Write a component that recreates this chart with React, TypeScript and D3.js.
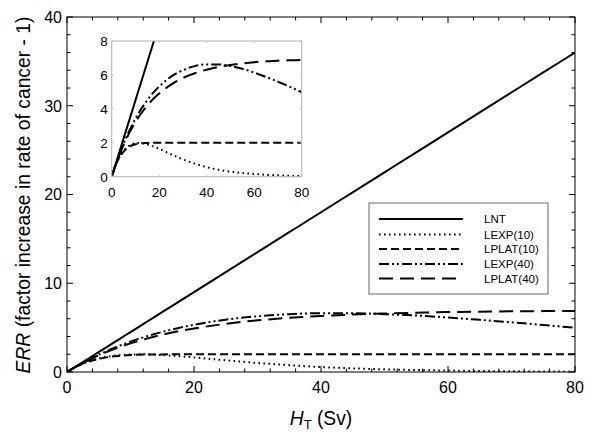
import React from "react";
import * as d3 from "d3";

const doses = [0, 2, 4, 6, 8, 10, 12, 14, 16, 18, 20, 25, 30, 35, 40, 45, 50, 55, 60, 65, 70, 75, 80];
const lnt = [0, 0.9, 1.8, 2.7, 3.6, 4.5, 5.4, 6.3, 7.2, 8.1, 9, 11.25, 13.5, 15.75, 18, 20.25, 22.5, 24.75, 27, 29.25, 31.5, 33.75, 36];
const lexp10 = [0, 0.8, 1.33, 1.68, 1.88, 1.97, 1.99, 1.95, 1.87, 1.76, 1.64, 1.32, 1.02, 0.77, 0.56, 0.41, 0.3, 0.22, 0.16, 0.11, 0.08, 0.05, 0.04];
const lplat10 = [0, 0.78, 1.3, 1.62, 1.81, 1.91, 1.96, 1.98, 1.99, 2.0, 2.0, 2.0, 2.0, 2.0, 2.0, 2.0, 2.0, 2.0, 2.0, 2.0, 2.0, 2.0, 2.0];
const lexp40 = [0, 0.85, 1.6, 2.28, 2.88, 3.42, 3.9, 4.32, 4.7, 5.03, 5.32, 5.9, 6.28, 6.52, 6.62, 6.62, 6.52, 6.36, 6.14, 5.88, 5.6, 5.3, 4.98];
const lplat40 = [0, 0.83, 1.55, 2.18, 2.74, 3.22, 3.65, 4.03, 4.36, 4.65, 4.9, 5.43, 5.82, 6.1, 6.31, 6.47, 6.59, 6.68, 6.75, 6.8, 6.84, 6.86, 6.88];

const seriesNames = ["LNT", "LEXP(10)", "LPLAT(10)", "LEXP(40)", "LPLAT(40)"];
const seriesValues = [lnt, lexp10, lplat10, lexp40, lplat40];
const dashes = ["none", "1.6,3.4", "8,4", "10,3,2,3,2,3", "14,7"];

const mainXTicks = [0, 20, 40, 60, 80];
const mainYTicks = [0, 10, 20, 30, 40];
const insetXTicks = [0, 20, 40, 60, 80];
const insetYTicks = [0, 2, 4, 6, 8];

const FONT = "'Liberation Sans', Arial, sans-serif";

export default function App() {
  const W = 601, H = 437;
  const x = d3.scaleLinear().domain([0, 80]).range([67, 575]);
  const y = d3.scaleLinear().domain([0, 40]).range([372, 17]);
  const ix = d3.scaleLinear().domain([0, 80]).range([111.7, 301.7]);
  const iy = d3.scaleLinear().domain([0, 8]).range([176.7, 41]);

  const mk = (sx: any, sy: any) =>
    d3.line<[number, number]>().x(d => sx(d[0])).y(d => sy(d[1])).curve(d3.curveMonotoneX);

  const mainLine = mk(x, y);
  const insetLine = mk(ix, iy);
  const pts = (vals: number[]) => doses.map((d, i) => [d, vals[i]] as [number, number]);

  const xMinor = d3.range(0, 81, 4);
  const yMinor = d3.range(0, 41, 2);
  const [x0, x1] = x.range();
  const [y0, y1] = y.range();

  const legendRows = [219, 234.5, 249, 264, 278.5];

  return (
    <svg width={W} height={H} style={{ position: "absolute", left: 0, top: 0, background: "#fff" }} fontFamily={FONT}>
      <defs>
        <clipPath id="insetClip">
          <rect x={ix(0)} y={iy(8)} width={ix(80) - ix(0)} height={iy(0) - iy(8)} />
        </clipPath>
        <clipPath id="mainClip">
          <rect x={x0} y={y1} width={x1 - x0} height={y0 - y1} />
        </clipPath>
      </defs>
      <rect x={0} y={0} width={W} height={H} fill="#fff" />

      {/* main curves */}
      <g clipPath="url(#mainClip)">
        {seriesValues.map((v, i) => (
          <path key={i} d={mainLine(pts(v)) || ""} fill="none" stroke="#000" strokeWidth={2}
            strokeDasharray={dashes[i]} />
        ))}
      </g>

      {/* main frame */}
      <rect x={x0} y={y1} width={x1 - x0} height={y0 - y1} fill="none" stroke="#000" strokeWidth={1} />
      {xMinor.map(t => {
        const major = t % 20 === 0;
        const L = major ? 6 : 3.5;
        return (
          <g key={"xt" + t} stroke="#000" strokeWidth={1}>
            <line x1={x(t)} x2={x(t)} y1={y0} y2={y0 - L} />
            <line x1={x(t)} x2={x(t)} y1={y1} y2={y1 + L} />
          </g>
        );
      })}
      {yMinor.map(t => {
        const major = t % 10 === 0;
        const L = major ? 6 : 3.5;
        return (
          <g key={"yt" + t} stroke="#000" strokeWidth={1}>
            <line x1={x0} x2={x0 + L} y1={y(t)} y2={y(t)} />
            <line x1={x1} x2={x1 - L} y1={y(t)} y2={y(t)} />
          </g>
        );
      })}
      {mainXTicks.map(t => (
        <text key={"xl" + t} x={x(t)} y={393} textAnchor="middle" fontSize={16}>{t}</text>
      ))}
      {mainYTicks.map(t => (
        <text key={"yl" + t} x={x0 - 5} y={y(t)} dy="0.36em" textAnchor="end" fontSize={16}>{t}</text>
      ))}

      {/* axis titles */}
      <text x={0} y={0} transform={`translate(29.5,${(y0 + y1) / 2 + 0.5}) rotate(-90)`} textAnchor="middle" fontSize={19.3}>
        <tspan fontStyle="italic">ERR</tspan>
        <tspan> (factor increase in rate of cancer - 1)</tspan>
      </text>
      <text x={(x0 + x1) / 2} y={424.5} textAnchor="middle" fontSize={19.3}>
        <tspan fontStyle="italic">H</tspan>
        <tspan fontSize={13} dy={4}>T</tspan>
        <tspan dy={-4}> (Sv)</tspan>
      </text>

      {/* inset */}
      <rect x={ix(0)} y={iy(8)} width={ix(80) - ix(0)} height={iy(0) - iy(8)} fill="#fff" />
      <g clipPath="url(#insetClip)">
        {seriesValues.map((v, i) => (
          <path key={i} d={insetLine(pts(v)) || ""} fill="none" stroke="#000" strokeWidth={2}
            strokeDasharray={dashes[i]} />
        ))}
      </g>
      <rect x={ix(0)} y={iy(8)} width={ix(80) - ix(0)} height={iy(0) - iy(8)} fill="none" stroke="#b0b0b0" strokeWidth={1} />
      {insetXTicks.map(t => (
        <g key={"ixt" + t}>
          <line x1={ix(t)} x2={ix(t)} y1={iy(0)} y2={iy(0) - 2} stroke="#c0c0c0" />
          <line x1={ix(t)} x2={ix(t)} y1={iy(8)} y2={iy(8) + 2} stroke="#c0c0c0" />
          <text x={ix(t)} y={197} textAnchor="middle" fontSize={13.5}>{t}</text>
        </g>
      ))}
      {insetYTicks.map(t => (
        <g key={"iyt" + t}>
          <line x1={ix(0)} x2={ix(0) + 2} y1={iy(t)} y2={iy(t)} stroke="#c0c0c0" />
          <line x1={ix(80)} x2={ix(80) - 2} y1={iy(t)} y2={iy(t)} stroke="#c0c0c0" />
          <text x={ix(0) - 4} y={iy(t)} dy="0.36em" textAnchor="end" fontSize={13.5}>{t}</text>
        </g>
      ))}

      {/* legend */}
      <rect x={369} y={203} width={179} height={91} fill="#fff" stroke="#666" strokeWidth={1} />
      {seriesNames.map((n, i) => (
        <g key={n}>
          <line x1={379} x2={463} y1={legendRows[i]} y2={legendRows[i]} stroke="#000" strokeWidth={2}
            strokeDasharray={dashes[i]} />
          <text x={484} y={legendRows[i]} dy="0.36em" fontSize={11.5}>{n}</text>
        </g>
      ))}
    </svg>
  );
}
